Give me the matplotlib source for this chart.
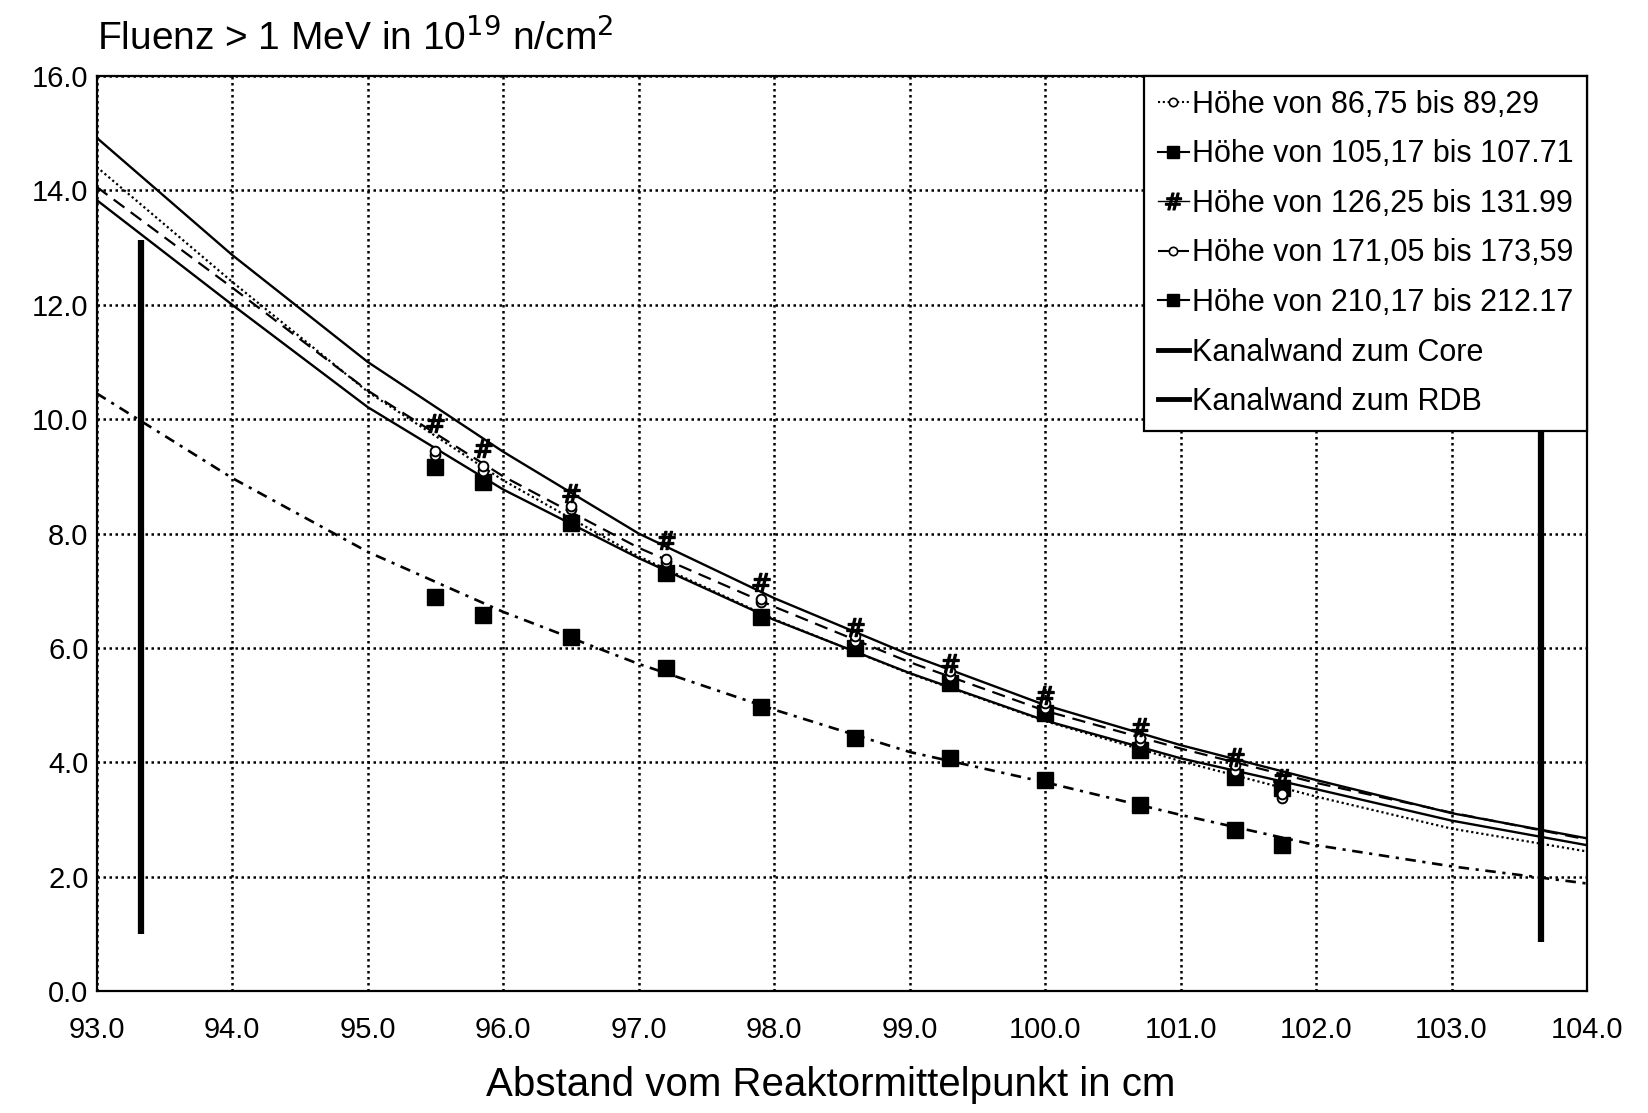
import matplotlib
matplotlib.use('Agg')
import matplotlib.pyplot as plt
from matplotlib.lines import Line2D

plt.rcParams['font.family'] = ['Liberation Sans', 'DejaVu Sans']

# Messpositionen: Abstand vom Reaktormittelpunkt in cm
abstand = [95.5, 95.85, 96.5, 97.2, 97.9, 98.6, 99.3, 100.0, 100.7, 101.4, 101.75]

# Fluenz > 1 MeV in 10^19 n/cm^2 je Hoehenbereich
hoehe_86 = [9.38, 9.10, 8.43, 7.50, 6.80, 6.12, 5.50, 4.95, 4.35, 3.85, 3.37]
hoehe_105 = [9.16, 8.90, 8.18, 7.31, 6.54, 6.00, 5.38, 4.86, 4.21, 3.74, 3.55]
hoehe_126 = [9.93, 9.49, 8.70, 7.88, 7.15, 6.36, 5.73, 5.17, 4.62, 4.09, 3.72]
hoehe_171 = [9.45, 9.18, 8.48, 7.56, 6.86, 6.20, 5.60, 5.04, 4.42, 3.95, 3.45]
hoehe_210 = [6.89, 6.57, 6.19, 5.65, 4.97, 4.42, 4.07, 3.69, 3.25, 2.81, 2.55]

abstand_kurve = [93, 94, 95, 96, 97, 98, 99, 100, 101, 102, 103, 104]
kurve_86 = [14.41, 12.40, 10.48, 8.93, 7.60, 6.50, 5.55, 4.72, 4.02, 3.40, 2.84, 2.44]
kurve_105 = [13.83, 12.00, 10.21, 8.77, 7.57, 6.49, 5.56, 4.73, 4.07, 3.53, 2.98, 2.55]
kurve_126 = [14.92, 12.87, 11.00, 9.43, 8.00, 6.87, 5.88, 5.00, 4.30, 3.69, 3.11, 2.67]
kurve_171 = [14.06, 12.30, 10.50, 9.00, 7.75, 6.72, 5.75, 4.90, 4.24, 3.64, 3.12, 2.65]
kurve_210 = [10.45, 8.97, 7.68, 6.63, 5.72, 4.92, 4.18, 3.65, 3.08, 2.55, 2.18, 1.88]

# Kanalwaende (Position x, von y bis y)
wand_core = [93.33, 1.0, 13.13]
wand_rdb = [103.66, 0.85, 13.13]

legende = ['Höhe von 86,75 bis 89,29', 'Höhe von 105,17 bis 107.71',
           'Höhe von 126,25 bis 131.99', 'Höhe von 171,05 bis 173,59',
           'Höhe von 210,17 bis 212.17', 'Kanalwand zum Core', 'Kanalwand zum RDB']

x_ticks = [93.0, 94.0, 95.0, 96.0, 97.0, 98.0, 99.0, 100.0, 101.0, 102.0, 103.0, 104.0]
y_ticks = [0.0, 2.0, 4.0, 6.0, 8.0, 10.0, 12.0, 14.0, 16.0]

fig = plt.figure(figsize=(16.48, 11.13), dpi=100)
ax = fig.add_axes([0.0587, 0.1096, 0.9043, 0.8221])

# Gitter
ax.set_axisbelow(True)
ax.grid(True, color='black', linestyle=(0, (1, 1.4)), linewidth=1.8)

stil_punkt = (0, (1, 1.3))
stil_strich = (0, (6, 3.5))
stil_strichpunkt = (0, (4, 2.5, 1.2, 2.5))

# Ausgleichskurven
ax.plot(abstand_kurve, kurve_126, color='black', lw=1.7, ls='-')
ax.plot(abstand_kurve, kurve_105, color='black', lw=1.7, ls='-')
ax.plot(abstand_kurve, kurve_171, color='black', lw=1.6, ls=stil_strich)
ax.plot(abstand_kurve, kurve_86, color='black', lw=1.6, ls=stil_punkt)
ax.plot(abstand_kurve, kurve_210, color='black', lw=1.9, ls=stil_strichpunkt)

# Kanalwaende
ax.plot([wand_core[0], wand_core[0]], wand_core[1:], color='black', lw=4.5, solid_capstyle='butt')
ax.plot([wand_rdb[0], wand_rdb[0]], wand_rdb[1:], color='black', lw=4.5, solid_capstyle='butt')

# Messwerte
ax.plot(abstand, hoehe_105, ls='none', marker='s', ms=11, color='black', zorder=4)
ax.plot(abstand, hoehe_210, ls='none', marker='s', ms=11, color='black', zorder=4)
ax.plot(abstand, hoehe_86, ls='none', marker='o', ms=7, mfc='white', mec='black', mew=1.4, zorder=5)
ax.plot(abstand, hoehe_171, ls='none', marker='o', ms=7, mfc='white', mec='black', mew=1.4, zorder=5)
ax.plot(abstand, hoehe_126, ls='none', marker=r'$\#$', ms=13, color='black', zorder=5)

ax.set_xlim(93, 104)
ax.set_ylim(0, 16)
ax.set_xticks(x_ticks)
ax.set_xticklabels(['%.1f' % v for v in x_ticks])
ax.set_yticks(y_ticks)
ax.set_yticklabels(['%.1f' % v for v in y_ticks])
ax.tick_params(length=0, labelsize=21, pad=18)
ax.tick_params(axis='y', pad=6)
for s in ax.spines.values():
    s.set_linewidth(1.6)
    s.set_color('black')

# Legende
griffe = [
    Line2D([], [], color='black', ls=stil_punkt, lw=1.5, marker='o', ms=6, mfc='white', mew=1.2),
    Line2D([], [], color='black', ls='-', lw=1.5, marker='s', ms=8),
    Line2D([], [], color='black', ls='-', lw=1.0, marker=r'$\#$', ms=12),
    Line2D([], [], color='black', ls=stil_strich, lw=1.5, marker='o', ms=6, mfc='white', mew=1.2),
    Line2D([], [], color='black', ls='-', lw=1.5, marker='s', ms=8),
    Line2D([], [], color='black', ls='-', lw=3.5),
    Line2D([], [], color='black', ls='-', lw=3.5),
]
leg = ax.legend(griffe, legende, loc='upper right', fontsize=22, frameon=True,
                fancybox=False, framealpha=1, edgecolor='black', borderaxespad=0,
                handlelength=1.0, handletextpad=0.1, labelspacing=0.64,
                borderpad=0.45)
leg.get_frame().set_linewidth(1.6)
leg.set_zorder(10)

# Beschriftungen
fig.text(0.059, 0.966, r'Fluenz > 1 MeV in 10$^{19}$ n/cm$^{2}$', fontsize=28,
         ha='left', va='center')
fig.text(0.504, 0.025, 'Abstand vom Reaktormittelpunkt in cm', fontsize=29,
         ha='center', va='center')

fig.savefig('out.png', dpi=100)
